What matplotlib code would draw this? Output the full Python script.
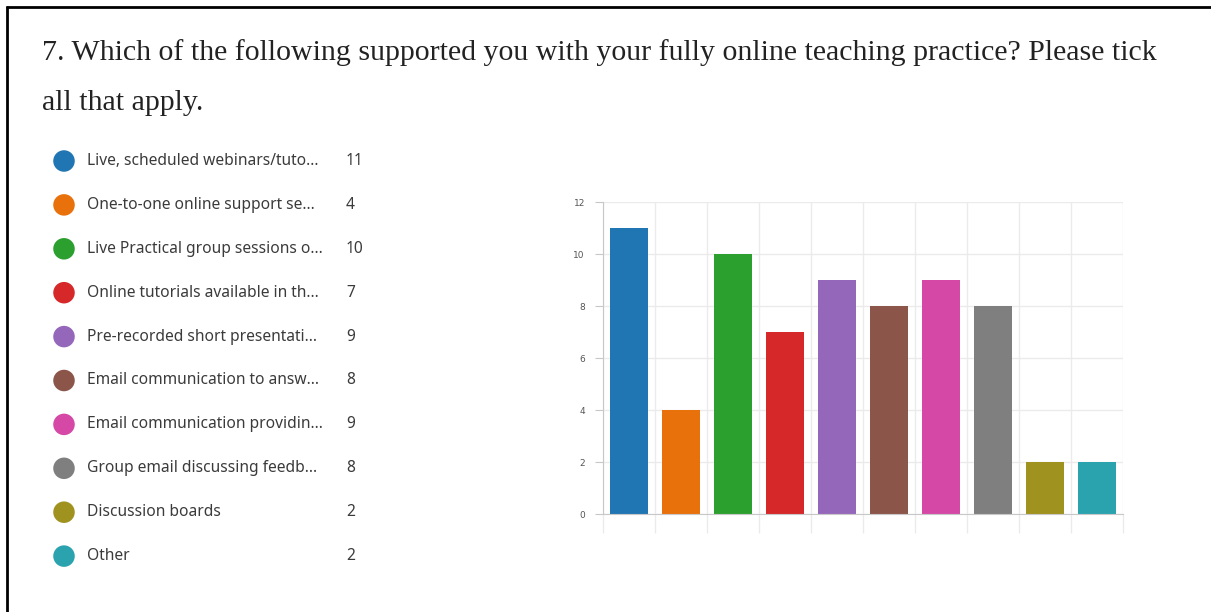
import numpy as np
import matplotlib.pyplot as plt
from matplotlib.lines import Line2D

W, H = 1211, 612

labels = ["Live, scheduled webinars/tuto...", "One-to-one online support se...",
          "Live Practical group sessions o...", "Online tutorials available in th...",
          "Pre-recorded short presentati...", "Email communication to answ...",
          "Email communication providin...", "Group email discussing feedb...",
          "Discussion boards", "Other"]
counts = [11, 4, 10, 7, 9, 8, 9, 8, 2, 2]
colors = ["#2075b3", "#e9710b", "#2ca02f", "#d62829", "#9467bb",
          "#8c5549", "#d548a6", "#7f7f7f", "#a0921e", "#2aa3af"]
title_lines = ["7. Which of the following supported you with your fully online teaching practice? Please tick",
               "all that apply."]

fig = plt.figure(figsize=(W / 100, H / 100), dpi=100)
fig.patch.set_facecolor("white")

def fx(px):
    return px / W

def fy(py):
    return 1 - py / H

# border (left and top only)
fig.add_artist(Line2D([fx(7), fx(7)], [fy(6), 0], color="black", lw=2, solid_capstyle="butt"))
fig.add_artist(Line2D([fx(6), 1], [fy(7), fy(7)], color="black", lw=2, solid_capstyle="butt"))

# title
fig.text(fx(42), fy(53), title_lines[0], family="Liberation Serif", fontsize=21.5,
         color="#222222", va="center", ha="left")
fig.text(fx(42), fy(103), title_lines[1], family="Liberation Serif", fontsize=21.5,
         color="#222222", va="center", ha="left")

# legend
lax = fig.add_axes([0, 0, 1, 1], zorder=0)
lax.set_xlim(0, W)
lax.set_ylim(H, 0)
lax.axis("off")
row_y = 161 + 43.9 * np.arange(len(labels))
lax.scatter(np.full(len(labels), 64), row_y, s=240, c=colors, edgecolors="none")
for i in range(len(labels)):
    lax.text(87, row_y[i], labels[i], family="Noto Sans", fontsize=11.2,
             color="#3b3b3b", va="center", ha="left")
    lax.text(346, row_y[i], str(counts[i]), family="Noto Sans", fontsize=11.2,
             color="#3b3b3b", va="center", ha="left")

# bar chart
ax = fig.add_axes([fx(603), fy(514), (1123 - 603) / W, (514 - 202) / H], zorder=1)
ax.patch.set_alpha(0)
x = np.arange(len(counts))
ax.bar(x, counts, width=0.72, color=colors, zorder=3)
ax.set_xlim(-0.5, len(counts) - 0.5)
ax.set_ylim(0, 12)
ax.set_yticks(range(0, 13, 2))
ax.set_xticks(np.arange(len(counts) + 1) - 0.5)
ax.set_xticklabels([])
ax.grid(True, color="#ebebeb", lw=1, zorder=0)
ax.tick_params(axis="x", length=14, color="#ebebeb", width=1)
ax.tick_params(axis="y", length=6, color="#c8c8c8", labelsize=6.5, labelcolor="#555555", pad=7)
for s in ["top", "right"]:
    ax.spines[s].set_visible(False)
ax.spines["left"].set_color("#c8c8c8")
ax.spines["bottom"].set_color("#c8c8c8")
ax.spines["left"].set_zorder(4)
ax.spines["bottom"].set_zorder(4)

fig.savefig("out.png", dpi=100)
